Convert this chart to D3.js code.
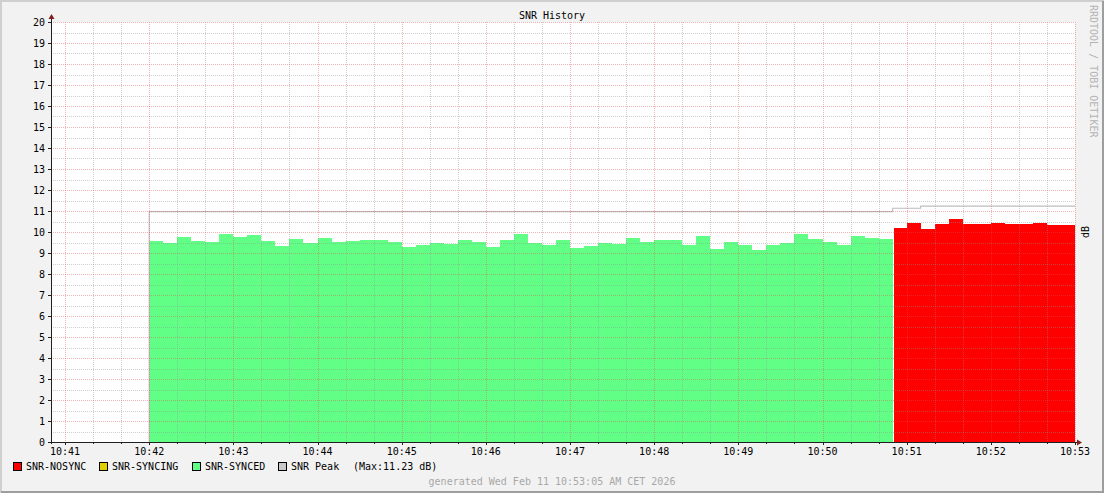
<!DOCTYPE html>
<html><head><meta charset="utf-8">
<script src="https://cdn.jsdelivr.net/npm/d3@7"></script>
<style>
html,body{margin:0;padding:0;background:#f2f2f2;}
svg{display:block;}
text{font-family:"DejaVu Sans Mono",monospace;font-size:10px;}
</style>
</head><body>
<svg id="chart" width="1104" height="493"></svg>
<script>
// ---------- data ----------
const chartTitle = "SNR History";
const axisLabel = "dB";
const watermark = "RRDTOOL / TOBI OETIKER";
const footer = "generated Wed Feb 11 10:53:05 AM CET 2026";
const domainStart = "2026-02-11T10:40:50";
const domainEnd = "2026-02-11T10:53:00";
const seriesStart = "2026-02-11T10:42:00";
const stepSeconds = 10;

// SNR-SYNCED values (10 s steps starting 10:42:00)
const syncedValues = [
  9.57, 9.48, 9.76, 9.57, 9.52, 9.90, 9.76, 9.86, 9.57, 9.33,
  9.67, 9.48, 9.71, 9.52, 9.57, 9.62, 9.62, 9.52, 9.29, 9.38,
  9.48, 9.43, 9.62, 9.52, 9.29, 9.62, 9.90, 9.48, 9.38, 9.62,
  9.24, 9.33, 9.48, 9.43, 9.71, 9.52, 9.62, 9.62, 9.38, 9.81,
  9.19, 9.52, 9.38, 9.14, 9.38, 9.48, 9.90, 9.67, 9.52, 9.38,
  9.81, 9.71, 9.67
];
// SNR-NOSYNC values (continue after the synced steps)
const nosyncValues = [
  10.19, 10.43, 10.14, 10.38, 10.62, 10.38, 10.38, 10.43, 10.38, 10.38,
  10.43, 10.33, 10.33
];
// SNR-SYNCING: no values in this window
const syncingValues = [];
// SNR Peak (one value per 10 s step over the whole series)
const peakValues = [
  10.97, 10.97, 10.97, 10.97, 10.97, 10.97, 10.97, 10.97, 10.97, 10.97,
  10.97, 10.97, 10.97, 10.97, 10.97, 10.97, 10.97, 10.97, 10.97, 10.97,
  10.97, 10.97, 10.97, 10.97, 10.97, 10.97, 10.97, 10.97, 10.97, 10.97,
  10.97, 10.97, 10.97, 10.97, 10.97, 10.97, 10.97, 10.97, 10.97, 10.97,
  10.97, 10.97, 10.97, 10.97, 10.97, 10.97, 10.97, 10.97, 10.97, 10.97,
  10.97, 10.97, 10.97, 11.13, 11.13, 11.23, 11.23, 11.23, 11.23, 11.23,
  11.23, 11.23, 11.23, 11.23, 11.23, 11.23
];
const yTickValues = [0,1,2,3,4,5,6,7,8,9,10,11,12,13,14,15,16,17,18,19,20];
const xTickLabels = ["10:41","10:42","10:43","10:44","10:45","10:46","10:47","10:48","10:49","10:50","10:51","10:52","10:53"];
const legendLabels = ["SNR-NOSYNC","SNR-SYNCING","SNR-SYNCED","SNR Peak"];
const legendColors = ["#ff0000","#e0d000","#62ff86","#c8c8c8"];
const peakMaxText = "(Max:11.23 dB)";

// ---------- layout ----------
const W = 1104, H = 493;
const plot = {left: 51, right: 1075, top: 22, bottom: 442};
const svg = d3.select("#chart");
const parse = d3.timeParse("%Y-%m-%dT%H:%M:%S");
const x = d3.scaleTime().domain([parse(domainStart), parse(domainEnd)]).range([plot.left, plot.right]);
const y = d3.scaleLinear().domain([0, 20]).range([plot.bottom, plot.top]);
const t0 = parse(seriesStart);
const tAt = i => d3.timeSecond.offset(t0, i * stepSeconds);

// background + 3D frame
svg.append("rect").attr("width", W).attr("height", H).attr("fill", "#f2f2f2");
svg.append("path").attr("d", `M1,${H} V1 H${W}`).attr("fill","none").attr("stroke","#cfcfcf").attr("stroke-width",2);
svg.append("path").attr("d", `M1,${H-1} H${W-1} V1`).attr("fill","none").attr("stroke","#9e9e9e").attr("stroke-width",2);
// canvas
svg.append("rect").attr("x", plot.left).attr("y", plot.top)
  .attr("width", plot.right - plot.left).attr("height", plot.bottom - plot.top).attr("fill", "#ffffff");

// series areas (step after)
function stepPoints(values, offset) {
  const pts = values.map((v, i) => ({t: tAt(offset + i), v}));
  if (values.length) pts.push({t: tAt(offset + values.length), v: values[values.length - 1]});
  return pts;
}
const area = d3.area().curve(d3.curveStepAfter).x(d => x(d.t)).y0(y(0)).y1(d => y(d.v));
svg.append("path").datum(stepPoints(syncedValues, 0)).attr("d", area)
  .attr("fill", legendColors[2]).attr("shape-rendering","crispEdges");
svg.append("path").datum(stepPoints(nosyncValues, syncedValues.length)).attr("d", area)
  .attr("fill", legendColors[0]).attr("shape-rendering","crispEdges");
// thin gap where the state changes
const tChange = tAt(syncedValues.length);
svg.append("line").attr("x1", Math.round(x(tChange)) + 0.5).attr("x2", Math.round(x(tChange)) + 0.5)
  .attr("y1", y(0)).attr("y2", y(nosyncValues[0])).attr("stroke","#ffffff").attr("shape-rendering","crispEdges");

// peak line
const peakPts = [{t: t0, v: 0}].concat(stepPoints(peakValues, 0));
const line = d3.line().curve(d3.curveStepAfter).x(d => x(d.t)).y(d => y(d.v));
svg.append("path").datum(peakPts).attr("d", line).attr("fill","none")
  .attr("stroke", "#bdbdbd").attr("stroke-width", 1.1);

// grid
const grid = svg.append("g").attr("shape-rendering","crispEdges").attr("stroke-dasharray","1,1").attr("stroke-width",1);
const minorT = d3.timeSecond.every(20).range(x.domain()[0], d3.timeSecond.offset(x.domain()[1], 1))
  .filter(t => t.getSeconds() !== 0);
const majorT = d3.timeMinute.every(1).range(x.domain()[0], d3.timeSecond.offset(x.domain()[1], 1));
grid.selectAll(".vmin").data(minorT).join("line")
  .attr("x1", d => Math.round(x(d)) + 0.5).attr("x2", d => Math.round(x(d)) + 0.5)
  .attr("y1", plot.top).attr("y2", plot.bottom).attr("stroke","rgba(143,143,143,0.42)");
const minorY = d3.range(0.5, 20, 1);
grid.selectAll(".hmin").data(minorY).join("line")
  .attr("x1", plot.left).attr("x2", plot.right)
  .attr("y1", d => Math.round(y(d)) + 0.5).attr("y2", d => Math.round(y(d)) + 0.5)
  .attr("stroke","rgba(143,143,143,0.42)");
grid.selectAll(".vmaj").data(majorT).join("line")
  .attr("x1", d => Math.round(x(d)) + 0.5).attr("x2", d => Math.round(x(d)) + 0.5)
  .attr("y1", plot.top).attr("y2", plot.bottom).attr("stroke","rgba(222,79,79,0.42)");
grid.selectAll(".hmaj").data(yTickValues.filter(v => v > 0)).join("line")
  .attr("x1", plot.left).attr("x2", plot.right)
  .attr("y1", d => Math.round(y(d)) + 0.5).attr("y2", d => Math.round(y(d)) + 0.5)
  .attr("stroke","rgba(222,79,79,0.42)");

// axes
const ax = svg.append("g").attr("shape-rendering","crispEdges");
ax.selectAll(".yt").data(yTickValues).join("line")
  .attr("x1", plot.left - 3).attr("x2", plot.left)
  .attr("y1", d => Math.round(y(d)) + 0.5).attr("y2", d => Math.round(y(d)) + 0.5)
  .attr("stroke", "#1f1f1f");
ax.selectAll(".xt").data(majorT).join("line")
  .attr("x1", d => Math.round(x(d)) + 0.5).attr("x2", d => Math.round(x(d)) + 0.5)
  .attr("y1", plot.bottom).attr("y2", plot.bottom + 3).attr("stroke", "#1f1f1f");
ax.selectAll(".xtm").data(minorT).join("line")
  .attr("x1", d => Math.round(x(d)) + 0.5).attr("x2", d => Math.round(x(d)) + 0.5)
  .attr("y1", plot.bottom).attr("y2", plot.bottom + 2).attr("stroke", "#1f1f1f");
ax.append("line").attr("x1", plot.left - 2).attr("x2", plot.right + 3)
  .attr("y1", plot.bottom + 0.5).attr("y2", plot.bottom + 0.5).attr("stroke","#1f1f1f");
ax.append("line").attr("x1", plot.left + 0.5).attr("x2", plot.left + 0.5)
  .attr("y1", plot.bottom + 2).attr("y2", plot.top - 4).attr("stroke","#1f1f1f");
// arrows
svg.append("path").attr("d", `M${plot.right+2},${plot.bottom-2.5} L${plot.right+7},${plot.bottom+0.5} L${plot.right+2},${plot.bottom+3.5} Z`).attr("fill","#801f1f");
svg.append("path").attr("d", `M${plot.left-2.5},${plot.top-3} L${plot.left+0.5},${plot.top-8} L${plot.left+3.5},${plot.top-3} Z`).attr("fill","#801f1f");

// tick labels
svg.selectAll(".yl").data(yTickValues).join("text")
  .attr("x", plot.left - 6).attr("y", d => y(d) + 4).attr("text-anchor","end")
  .attr("fill","#000").text(d => d);
const fmt = d3.timeFormat("%H:%M");
svg.selectAll(".xl").data(majorT.filter(t => xTickLabels.includes(fmt(t)))).join("text")
  .attr("x", d => x(d)).attr("y", plot.bottom + 13).attr("text-anchor","middle")
  .attr("fill","#000").text(d => fmt(d));

// title, labels
svg.append("text").attr("x", 552).attr("y", 19).attr("text-anchor","middle").attr("fill","#000").text(chartTitle);
svg.append("text").attr("transform", `translate(1089,${(plot.top+plot.bottom)/2}) rotate(-90)`)
  .attr("text-anchor","middle").attr("fill","#000").text(axisLabel);
svg.append("text").attr("transform", `translate(1090,5) rotate(90)`)
  .attr("text-anchor","start").attr("fill","#b4b4b4").text(watermark);
svg.append("text").attr("x", 552).attr("y", 485).attr("text-anchor","middle").attr("fill","#a8a8a8").text(footer);

// legend
const legendX = [13, 99, 192, 278];
const lg = svg.append("g");
legendLabels.forEach((lab, i) => {
  lg.append("rect").attr("x", legendX[i] + 0.5).attr("y", 462.5).attr("width", 8).attr("height", 8)
    .attr("fill", legendColors[i]).attr("stroke","#000").attr("stroke-width",1).attr("shape-rendering","crispEdges");
  lg.append("text").attr("x", legendX[i] + 13).attr("y", 470).attr("fill","#000").text(lab);
});
lg.append("text").attr("x", 353).attr("y", 470).attr("fill","#000").text(peakMaxText);
</script>
</body></html>
